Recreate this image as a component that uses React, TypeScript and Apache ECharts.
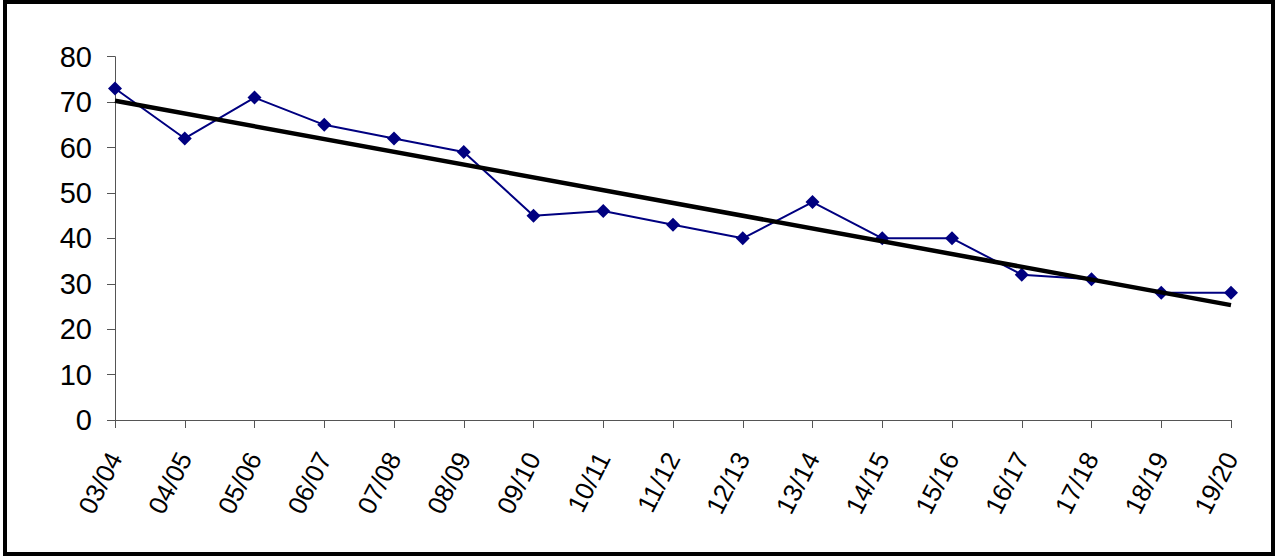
import React, { useEffect, useRef } from "react";
import * as echarts from "echarts";

const categories = ["03/04", "04/05", "05/06", "06/07", "07/08", "08/09", "09/10", "10/11", "11/12", "12/13", "13/14", "14/15", "15/16", "16/17", "17/18", "18/19", "19/20"];
const values = [73, 62, 71, 65, 62, 59, 45, 46, 43, 40, 48, 40, 40, 32, 31, 28, 28];
const trendStart = 70.3;
const trendEnd = 25.3;
const yTicks = { min: 0, max: 80, interval: 10 };

export default function App() {
  const ref = useRef<HTMLDivElement>(null);
  useEffect(() => {
    if (!ref.current) return;
    const chart = echarts.init(ref.current, null, { renderer: "svg" });
    const font = "Liberation Sans";
    chart.setOption({
      animation: false,
      backgroundColor: "#ffffff",
      grid: { left: 115, right: 48, top: 56.7, bottom: 136, containLabel: false },
      xAxis: {
        type: "category",
        data: categories,
        boundaryGap: false,
        axisLine: { lineStyle: { color: "#555", width: 1 } },
        axisTick: { show: true, alignWithLabel: true, length: 8, lineStyle: { color: "#555" } },
        axisLabel: { rotate: 63, margin: 34, fontSize: 26, color: "#000", fontFamily: font, interval: 0 },
        splitLine: { show: false },
      },
      yAxis: {
        type: "value",
        min: yTicks.min,
        max: yTicks.max,
        interval: yTicks.interval,
        axisLine: { show: true, lineStyle: { color: "#555", width: 1 } },
        axisTick: { show: true, length: 8, lineStyle: { color: "#555" } },
        axisLabel: { margin: 23, fontSize: 29, color: "#000", fontFamily: font },
        splitLine: { show: false },
      },
      series: [
        {
          type: "line",
          data: values,
          symbol: "diamond",
          symbolSize: 14,
          lineStyle: { color: "#000080", width: 2 },
          itemStyle: { color: "#000080" },
          z: 2,
        },
        {
          type: "line",
          data: [[categories[0], trendStart], [categories[categories.length - 1], trendEnd]],
          symbol: "none",
          lineStyle: { color: "#000", width: 4.5 },
          z: 3,
        },
      ],
      graphic: [
        {
          type: "rect",
          shape: { x: 5, y: 2, width: 1268, height: 552 },
          style: { fill: "none", stroke: "#000", lineWidth: 4 },
          silent: true,
        },
      ],
    });
    return () => chart.dispose();
  }, []);
  return (
    <div
      ref={ref}
      style={{ position: "fixed", left: 0, top: 0, width: 1279, height: 556 }}
    />
  );
}
